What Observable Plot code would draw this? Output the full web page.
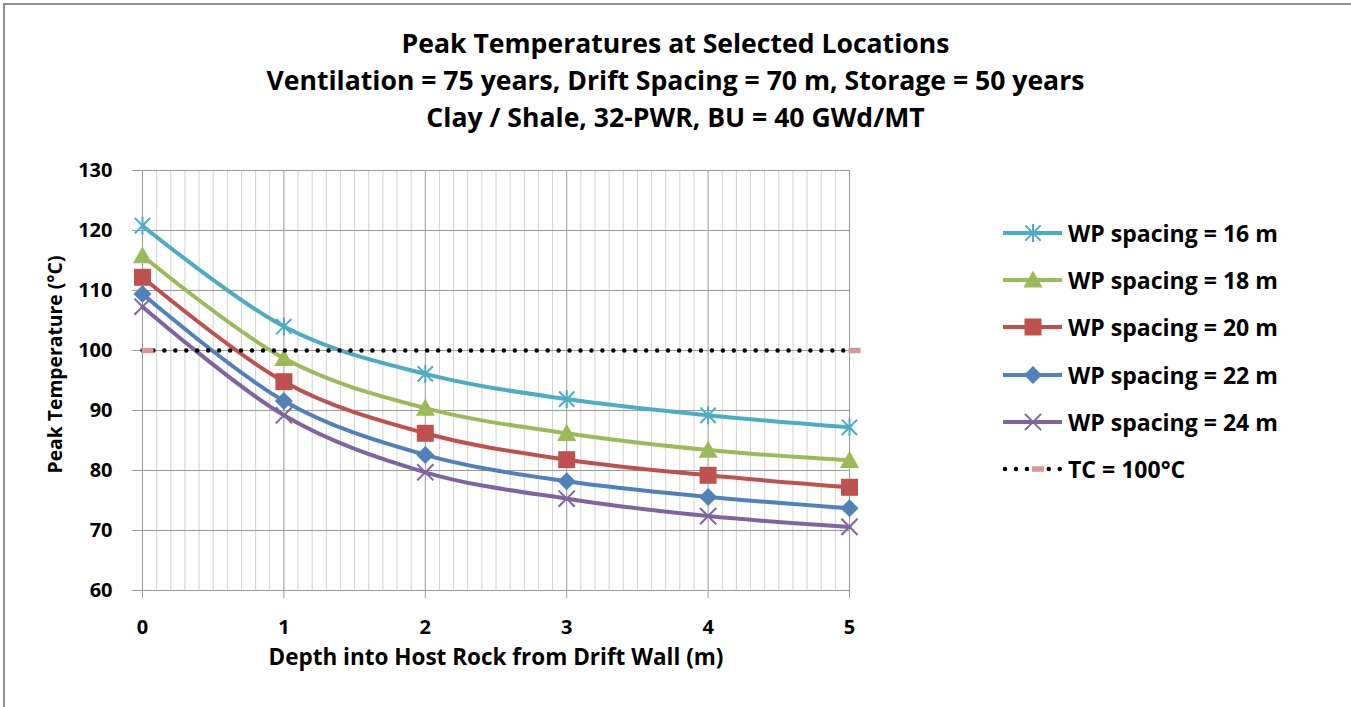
<!DOCTYPE html>
<html>
<head>
<meta charset="utf-8">
<script src="https://cdn.jsdelivr.net/npm/d3@7"></script>
<script src="https://cdn.jsdelivr.net/npm/@observablehq/plot@0.6"></script>
<style>
  body { margin: 0; background: #fff; }
  #wrap { position: relative; width: 1351px; height: 707px; overflow: hidden; font-family: "Open Sans", Lato, sans-serif; color: #000; background: #fff; }
  #frame { position: absolute; left: 3px; top: 3px; width: 1400px; height: 800px; border-left: 2px solid #8e8e8e; border-top: 2px solid #8e8e8e; }
  #title { position: absolute; left: 0; top: 25px; width: 1351px; text-align: center; font-weight: 700; line-height: 37px; }
  #chart { position: absolute; left: 0; top: 150px; }
  .lg-row { position: absolute; left: 1000px; height: 24px; }
  .lg-row svg { position: absolute; left: 0; top: 0; }
  .lg-row span { position: absolute; left: 68px; top: 0; line-height: 24px; font-weight: 700; white-space: nowrap; }
</style>
</head>
<body>
<div id="wrap">
  <div id="frame"></div>
  <div id="title"></div>
  <div id="chart"></div>
  <div id="legend"></div>
</div>
<script>
// ---- data ----
const depth = [0, 1, 2, 3, 4, 5];
const wp16 = [120.8, 104.0, 96.1, 91.9, 89.2, 87.2];
const wp18 = [115.8, 98.7, 90.4, 86.2, 83.4, 81.7];
const wp20 = [112.2, 94.8, 86.2, 81.8, 79.2, 77.2];
const wp22 = [109.4, 91.6, 82.6, 78.2, 75.6, 73.7];
const wp24 = [107.3, 89.2, 79.7, 75.3, 72.4, 70.6];
const tcDepth = [0, 5];
const tcValue = [100, 100];
const seriesNames = ["WP spacing = 16 m", "WP spacing = 18 m", "WP spacing = 20 m", "WP spacing = 22 m", "WP spacing = 24 m"];
const tcName = "TC = 100°C";
const xTicks = [0, 1, 2, 3, 4, 5];
const yTicks = [60, 70, 80, 90, 100, 110, 120, 130];
const titleLines = [
  "Peak Temperatures at Selected Locations",
  "Ventilation = 75 years, Drift Spacing = 70 m, Storage = 50 years",
  "Clay / Shale, 32-PWR, BU = 40 GWd/MT"
];
const titleX = "Depth into Host Rock from Drift Wall (m)";
const titleY = "Peak Temperature (°C)";

// ---- styles ----
const family = "'Open Sans', Lato, sans-serif";
const colors = ["#4BACC6", "#9BBB59", "#C0504D", "#4F81BD", "#8064A2"];
const tcPink = "#D99694";

// font size that makes a text reach a given width
const measureCtx = document.createElement("canvas").getContext("2d");
function fitSize(text, weight, target) {
  measureCtx.font = `${weight} 100px ${family}`;
  return 100 * target / measureCtx.measureText(text).width;
}
const titleSize = fitSize(titleLines[1], 700, 818);
const xLabelSize = fitSize(titleX, 700, 455);
const yLabelSize = fitSize(titleY, 700, 218);
const legendSize = fitSize(seriesNames[0], 700, 210);

const t = document.getElementById("title");
t.style.fontSize = titleSize + "px";
titleLines.forEach((s, i) => { if (i) t.appendChild(document.createElement("br")); t.appendChild(document.createTextNode(s)); });

const rad = (size) => Math.sqrt(size / Math.PI);
const starSym = { draw(c, s) { const r = rad(s), d = r * 0.85; c.moveTo(0, -r); c.lineTo(0, r); c.moveTo(-d, -d); c.lineTo(d, d); c.moveTo(-d, d); c.lineTo(d, -d); } };
const triSym = { draw(c, s) { const r = rad(s); c.moveTo(0, -r); c.lineTo(r, 0.8 * r); c.lineTo(-r, 0.8 * r); c.closePath(); } };
const sqSym = { draw(c, s) { const r = rad(s); c.rect(-r, -r, 2 * r, 2 * r); } };
const diaSym = { draw(c, s) { const r = rad(s); c.moveTo(0, -r); c.lineTo(r, 0); c.lineTo(0, r); c.lineTo(-r, 0); c.closePath(); } };
const timesSym = { draw(c, s) { const r = rad(s), d = r * 0.9; c.moveTo(-d, -d); c.lineTo(d, d); c.moveTo(-d, d); c.lineTo(d, -d); } };
const dashSym = { draw(c, s) { c.rect(-1, -2.75, 12, 5.5); } };

const markerStyle = [
  { symbol: starSym, r: 9, filled: false },
  { symbol: triSym, r: 9.5, filled: true },
  { symbol: sqSym, r: 8.5, filled: true },
  { symbol: diaSym, r: 9, filled: true },
  { symbol: timesSym, r: 9, filled: false }
];

const seriesValues = [wp16, wp18, wp20, wp22, wp24];
const seriesData = seriesValues.map((vals) => depth.map((d, i) => ({ x: d, y: vals[i] })));
const tcData = tcDepth.map((d, i) => ({ x: d, y: tcValue[i] }));
const minorX = d3.range(1, 50).map(i => i / 10).filter(v => Math.abs(v - Math.round(v)) > 1e-9);

const marks = [
  Plot.ruleX(minorX, { stroke: "#d2d2d2", strokeWidth: 1 }),
  Plot.ruleX(xTicks, { stroke: "#9a9a9a", strokeWidth: 1 }),
  Plot.ruleY(yTicks, { stroke: "#9a9a9a", strokeWidth: 1 }),
  Plot.axisX(xTicks, { tickSize: 8, tickPadding: 21, fontSize: 20, fontWeight: "bold", stroke: "#9a9a9a", fill: "#000", label: null, tickFormat: d => String(d) }),
  Plot.axisY(yTicks, { tickSize: 10, tickPadding: 20, fontSize: 20, fontWeight: "bold", stroke: "#9a9a9a", fill: "#000", label: null, tickFormat: d => String(d) }),
];
seriesData.forEach((data, k) => {
  marks.push(Plot.line(data, { x: "x", y: "y", stroke: colors[k], strokeWidth: 4, curve: "cardinal", tension: 0 }));
});
seriesData.forEach((data, k) => {
  const m = markerStyle[k];
  marks.push(Plot.dot(data, m.filled
    ? { x: "x", y: "y", symbol: m.symbol, r: m.r, fill: colors[k], stroke: "none" }
    : { x: "x", y: "y", symbol: m.symbol, r: m.r, fill: "none", stroke: colors[k], strokeWidth: 2 }));
});
marks.push(Plot.line(tcData, { x: "x", y: "y", stroke: "#000", strokeWidth: 4.5, strokeDasharray: "0,10.95", strokeLinecap: "round" }));
marks.push(Plot.dot(tcData, { x: "x", y: "y", symbol: dashSym, r: 5, fill: tcPink, stroke: "none" }));
marks.push(Plot.text([titleX], { frameAnchor: "bottom", textAnchor: "middle", dy: 74, fontSize: xLabelSize, fontWeight: "bold", fill: "#000" }));
marks.push(Plot.text([titleY], { frameAnchor: "left", textAnchor: "middle", rotate: -90, dx: -87, dy: -16, fontSize: yLabelSize, fontWeight: "bold", fill: "#000" }));

const chart = Plot.plot({
  width: 1000,
  height: 540,
  marginLeft: 142,
  marginRight: 151,
  marginTop: 20,
  marginBottom: 100,
  style: { fontFamily: family, background: "transparent", overflow: "visible" },
  x: { domain: [0, 5] },
  y: { domain: [60, 130] },
  marks
});
document.getElementById("chart").appendChild(chart);

// ---- legend ----
const legend = d3.select("#legend");
const rowCenters = [233, 280, 327, 375, 422, 469];
const names = seriesNames.concat([tcName]);
names.forEach((name, k) => {
  const row = legend.append("div").attr("class", "lg-row").style("top", (rowCenters[k] - 12) + "px");
  const svg = row.append("svg").attr("width", 66).attr("height", 24);
  if (k < 5) {
    svg.append("line").attr("x1", 3).attr("x2", 62).attr("y1", 12).attr("y2", 12)
      .attr("stroke", colors[k]).attr("stroke-width", 4);
    const m = markerStyle[k];
    const p = svg.append("path").attr("transform", "translate(33,12)")
      .attr("d", d3.symbol(m.symbol, Math.PI * m.r * m.r)());
    if (m.filled) p.attr("fill", colors[k]); else p.attr("fill", "none").attr("stroke", colors[k]).attr("stroke-width", 2);
  } else {
    svg.append("line").attr("x1", 5).attr("x2", 62).attr("y1", 12).attr("y2", 12)
      .attr("stroke", "#000").attr("stroke-width", 4.5).attr("stroke-dasharray", "0,10.95").attr("stroke-linecap", "round");
    svg.append("path").attr("transform", "translate(33,12)").attr("d", d3.symbol(dashSym, 25)()).attr("fill", tcPink);
  }
  row.append("span").style("font-size", legendSize + "px").text(name);
});
</script>
</body>
</html>
